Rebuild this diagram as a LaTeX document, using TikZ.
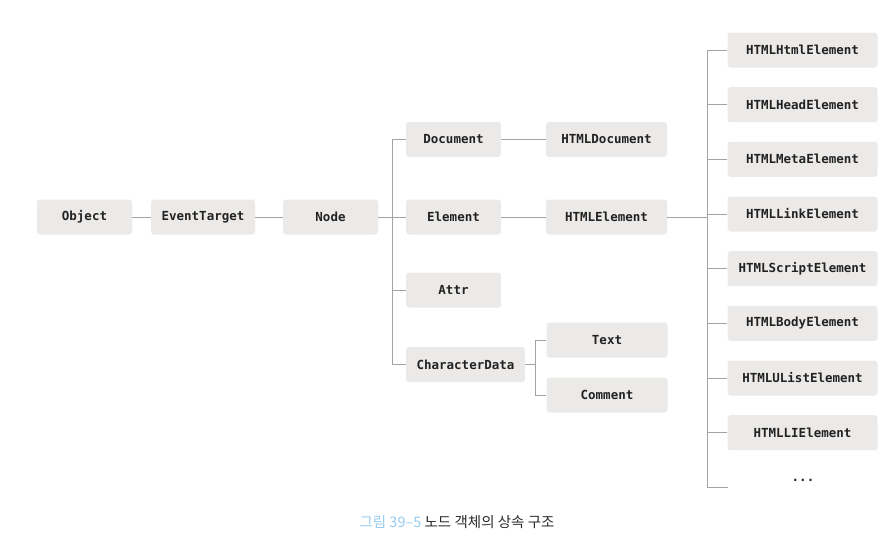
\documentclass[tikz,border=0pt]{standalone}
\usepackage{fontspec}
\setmonofont{DejaVu Sans Mono}
\newfontfamily\krfont{Noto Sans CJK KR}
\definecolor{boxfill}{HTML}{ECEAE8}
\definecolor{linegray}{HTML}{A3A3A3}
\definecolor{txt}{HTML}{222222}
\definecolor{capblue}{HTML}{96CBEE}
\definecolor{capdark}{HTML}{2A2A2A}
\tikzset{
  cls/.style={fill=boxfill, rounded corners=3pt, draw=none, inner sep=0pt,
    minimum height=35pt, font=\fontsize{12.5}{14}\ttfamily\bfseries, text=txt},
  wA/.style={cls, minimum width=95pt},
  wB/.style={cls, minimum width=104pt},
  wC/.style={cls, minimum width=121pt},
  wD/.style={cls, minimum width=119pt},
  wE/.style={cls, minimum width=150pt},
  conn/.style={draw=linegray, line width=0.8pt},
}
\begin{document}
\begin{tikzpicture}[x=1pt, y=-1pt]
\useasboundingbox (0,0) rectangle (892,546);
% main row
\node[wA] (obj) at (84.5,217) {Object};
\node[wB] (evt) at (203,217) {EventTarget};
\node[wA] (node) at (330.5,217) {Node};
% second column
\node[wA] (doc) at (453.5,139.5) {Document};
\node[wA] (elem) at (453.5,217) {Element};
\node[wA] (attr) at (453.5,290) {Attr};
\node[wD] (cdata) at (465.5,364.5) {CharacterData};
% third column
\node[wC] (hdoc) at (606.5,139.5) {HTMLDocument};
\node[wC] (helem) at (606.5,217) {HTMLElement};
\node[wC] (text) at (607,340) {Text};
\node[wC] (comment) at (607,395) {Comment};
% right column
\node[wE] (h1) at (802.5,50) {HTMLHtmlElement};
\node[wE] (h2) at (802.5,104.7) {HTMLHeadElement};
\node[wE] (h3) at (802.5,159.3) {HTMLMetaElement};
\node[wE] (h4) at (802.5,214) {HTMLLinkElement};
\node[wE] (h5) at (802.5,268.7) {HTMLScriptElement};
\node[wE] (h6) at (802.5,323.3) {HTMLBodyElement};
\node[wE] (h7) at (802.5,378) {HTMLUListElement};
\node[wE] (h8) at (802.5,432.7) {HTMLLIElement};
\node[font=\fontsize{12.5}{14}\ttfamily\bfseries, text=txt, inner sep=0pt] (dots) at (803,480) {...};
\coordinate (moreend) at (728,487);
% connectors
\draw[conn] (obj.east) -- (evt.west);
\draw[conn] (evt.east) -- (node.west);
\draw[conn] (node.east) -- (elem.west);
\draw[conn] (doc.west) -- ++(-13,0) |- (cdata.west);
\draw[conn] (attr.west) -- ++(-13,0);
\draw[conn] (doc.east) -- (hdoc.west);
\draw[conn] (elem.east) -- (helem.west);
\draw[conn] (cdata.east) -- ++(11,0);
\draw[conn] (text.west) -- ++(-11,0) |- (comment.west);
\draw[conn] (h1.west) -- ++(-20,0) |- (moreend);
\draw[conn] (helem.east) -- (helem.east -| 707.5,0);
\foreach \n in {h2,h3,h4,h5,h6,h7,h8}{
  \draw[conn] (\n.west) -- ++(-20,0);
}
% caption
\node[font=\krfont\fontsize{14.5}{17}\selectfont, inner sep=0pt] (cap) at (457,522)
  {\textcolor{capblue}{그림 39–5} \textcolor{capdark}{노드 객체의 상속 구조}};
\end{tikzpicture}
\end{document}
